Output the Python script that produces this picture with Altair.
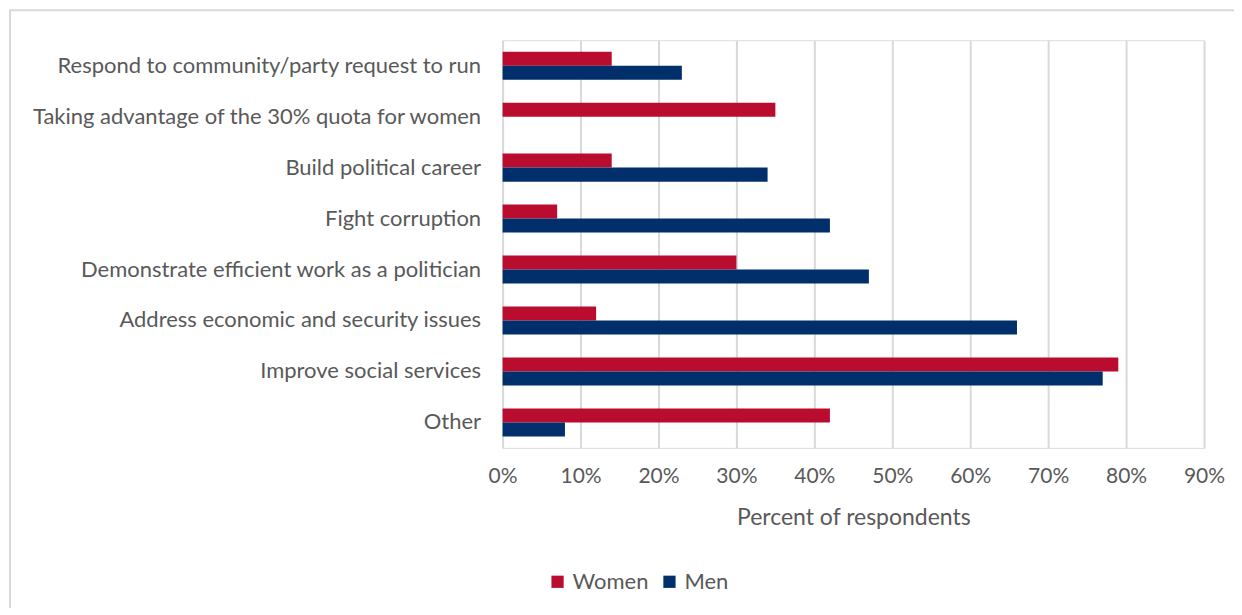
import altair as alt
import pandas as pd

categories = [
    "Respond to community/party request to run",
    "Taking advantage of the 30% quota for women",
    "Build political career",
    "Fight corruption",
    "Demonstrate efficient work as a politician",
    "Address economic and security issues",
    "Improve social services",
    "Other",
]
women = [14, 35, 14, 7, 30, 12, 79, 42]
men = [23, None, 34, 42, 47, 66, 77, 8]
groups = ["Women", "Men"]
colors = ["#BA0C2F", "#002F6C"]

rows = []
for c, w, m in zip(categories, women, men):
    rows.append({"cat": c, "group": "Women", "val": w / 100})
    if m is not None:
        rows.append({"cat": c, "group": "Men", "val": m / 100})
df = pd.DataFrame(rows)

FONT = "Lato"
TXT = "#595959"

bars = alt.Chart(df).mark_bar().encode(
    y=alt.Y("cat:N", sort=categories, title=None,
            scale=alt.Scale(paddingInner=0.45, paddingOuter=0.225),
            axis=alt.Axis(labelFontSize=22, labelColor=TXT, labelFont=FONT,
                          ticks=False, domain=False, labelPadding=22, labelLimit=600)),
    yOffset=alt.YOffset("group:N", sort=groups),
    x=alt.X("val:Q", title="Percent of respondents",
            scale=alt.Scale(domain=[0, 0.9], nice=False),
            axis=alt.Axis(format=".0%", values=[i / 10 for i in range(10)],
                          labelFontSize=21, labelColor=TXT, labelFont=FONT,
                          labelFlush=False,
                          titleFontSize=23, titleColor=TXT, titleFont=FONT,
                          titleFontWeight="normal", titlePadding=20,
                          ticks=False, domain=False, labelPadding=18,
                          grid=True, gridColor="#D9D9D9", gridWidth=2)),
    color=alt.Color("group:N", sort=groups,
                    scale=alt.Scale(domain=groups, range=colors),
                    legend=alt.Legend(title=None, orient="none", direction="horizontal",
                                      legendX=44, legendY=531, symbolType="square",
                                      symbolSize=150, symbolStrokeWidth=0,
                                      labelFontSize=22, labelColor=TXT, labelFont=FONT,
                                      columnPadding=10, labelOffset=4)),
)

frame = alt.Chart(pd.DataFrame({"a": [0]})).mark_rect(
    fill=None, stroke="#D9D9D9", strokeWidth=2
).encode(
    x=alt.value(-493), x2=alt.value(760), y=alt.value(-30), y2=alt.value(600)
)

chart = alt.layer(frame, bars).properties(
    width=702, height=408,
    autosize=alt.AutoSizeParams(type="none"),
    padding={"left": 495, "top": 32, "right": 30, "bottom": 160},
).configure_view(stroke=None).configure(font=FONT)

chart.save("out.html", embed_options={"renderer": "svg", "actions": False})
